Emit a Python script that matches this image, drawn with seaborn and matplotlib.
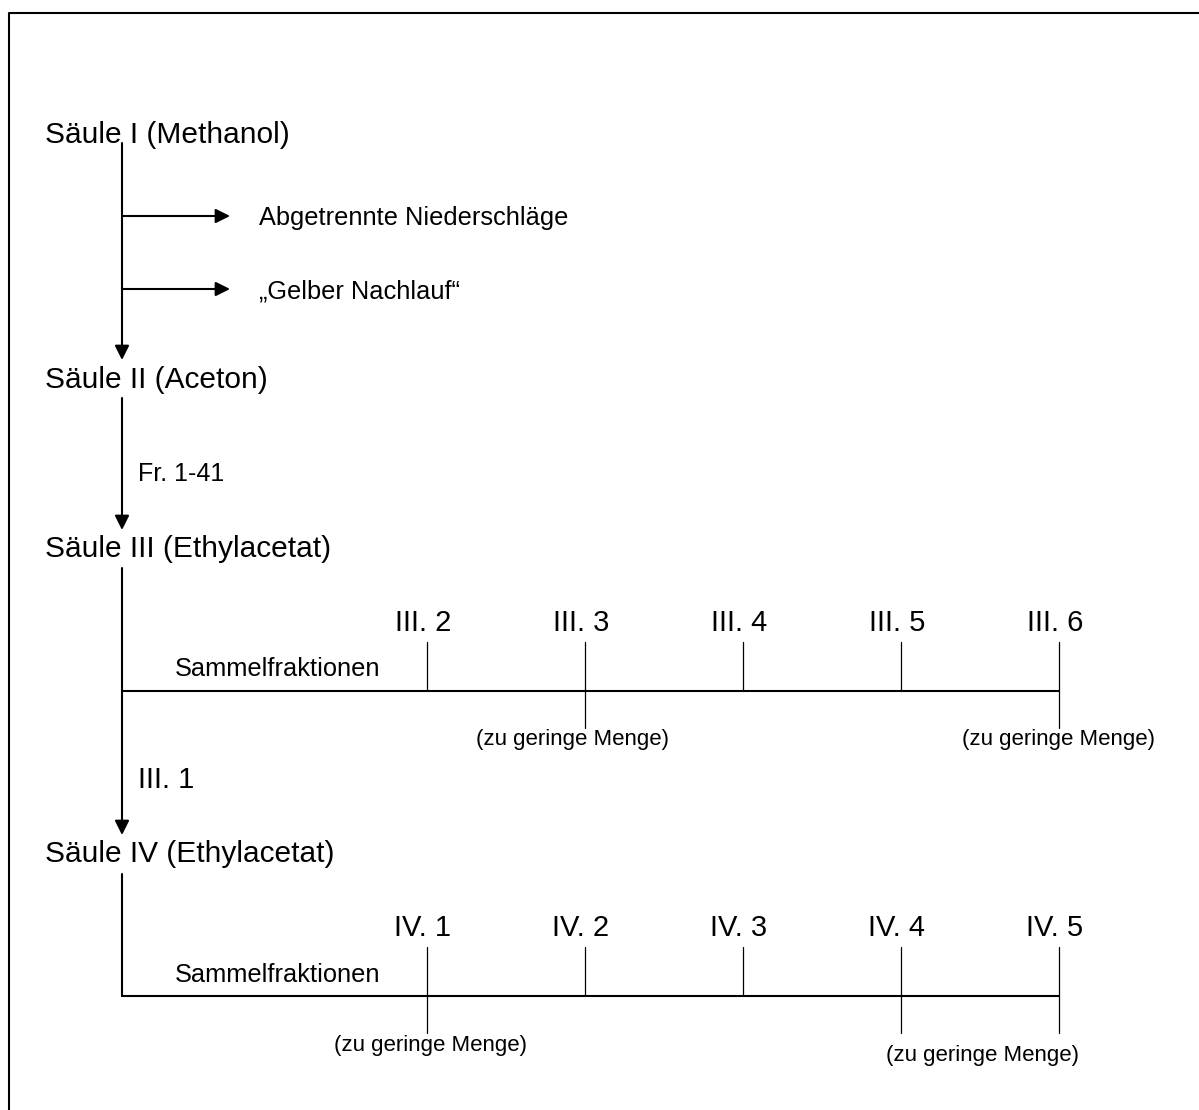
import matplotlib
matplotlib.use("Agg")
import matplotlib.pyplot as plt
import seaborn as sns

# Trennschema der Säulenchromatographie
columns = ["Säule I (Methanol)", "Säule II (Aceton)",
           "Säule III (Ethylacetat)", "Säule IV (Ethylacetat)"]
side_products = ["Abgetrennte Niederschläge", "„Gelber Nachlauf“"]
links = ["", "Fr. 1-41", "III. 1"]
pool_label = "Sammelfraktionen"
small_label = "(zu geringe Menge)"

fractions_III = ["III. 2", "III. 3", "III. 4", "III. 5", "III. 6"]
too_small_III = [False, True, False, False, True]
fractions_IV = ["IV. 1", "IV. 2", "IV. 3", "IV. 4", "IV. 5"]
too_small_IV = [True, False, False, True, True]

# layout (pixel coordinates, y downwards)
W, H = 1199, 1110
X_TEXT, X_STEM = 45, 122
col_base = [143, 388, 557, 862]
stem_top = [143, 398, 568, 874]
stem_end = [360, 530, 835]
side_y = [216, 289]
link_base = [0, 481, 788]
tick_x0, tick_dx = 427, 158
bar_y = [691, 996]
label_base = [631, 936]
pool_base = [676, 982]
small_pos = [[(572, 739), (1058, 739)], [(430, 1045), (982, 1055)]]

sns.set_theme(style="white")
plt.rcParams["font.family"] = ["Liberation Sans", "DejaVu Sans"]
plt.rcParams["text.color"] = "black"

fig = plt.figure(figsize=(W / 100, H / 100), dpi=100)
ax = fig.add_axes([0, 0, 1, 1])
ax.set_xlim(0, W)
ax.set_ylim(H, 0)
ax.axis("off")

# frame (right and bottom edge lie outside the picture)
ax.plot([9, 9, W + 10], [H + 10, 13, 13], color="black", lw=1.5)

arrow = dict(arrowstyle="-|>,head_length=0.4,head_width=0.2",
             mutation_scale=21.6, color="black", lw=1.5,
             shrinkA=0, shrinkB=0)

for i, name in enumerate(columns):
    ax.text(X_TEXT, col_base[i], name, fontsize=21.5, va="baseline", ha="left")

# stems with arrows between the columns
for i in range(3):
    ax.annotate("", xy=(X_STEM, stem_end[i]), xytext=(X_STEM, stem_top[i]),
                arrowprops=arrow)
    if links[i]:
        size = 18 if i == 1 else 21
        ax.text(X_STEM + 16, link_base[i], links[i], fontsize=size,
                va="baseline", ha="left")

# side branches from column I
for y, name in zip(side_y, side_products):
    ax.annotate("", xy=(230, y), xytext=(X_STEM, y), arrowprops=arrow)
    ax.text(259, y + 9, name, fontsize=18.3, va="baseline", ha="left")

# fraction bars of columns III and IV
for k, (labels, small) in enumerate([(fractions_III, too_small_III),
                                     (fractions_IV, too_small_IV)]):
    yb = bar_y[k]
    xs = [tick_x0 + j * tick_dx for j in range(len(labels))]
    if k == 1:
        ax.plot([X_STEM, X_STEM], [stem_top[3], yb], color="black", lw=1.5)
    ax.plot([X_STEM, xs[-1]], [yb, yb], color="black", lw=1.5)
    ax.text(175, pool_base[k], pool_label, fontsize=18.3, va="baseline", ha="left")
    for x, lab, s in zip(xs, labels, small):
        ax.plot([x, x], [yb - 49, yb + (37 if s else 0)], color="black", lw=0.9)
        ax.text(x - 4, label_base[k], lab, fontsize=21, va="baseline", ha="center")
    for x, y in small_pos[k]:
        ax.text(x, y, small_label, fontsize=16, va="center", ha="center")

fig.savefig("out.png", dpi=100, facecolor="white")
